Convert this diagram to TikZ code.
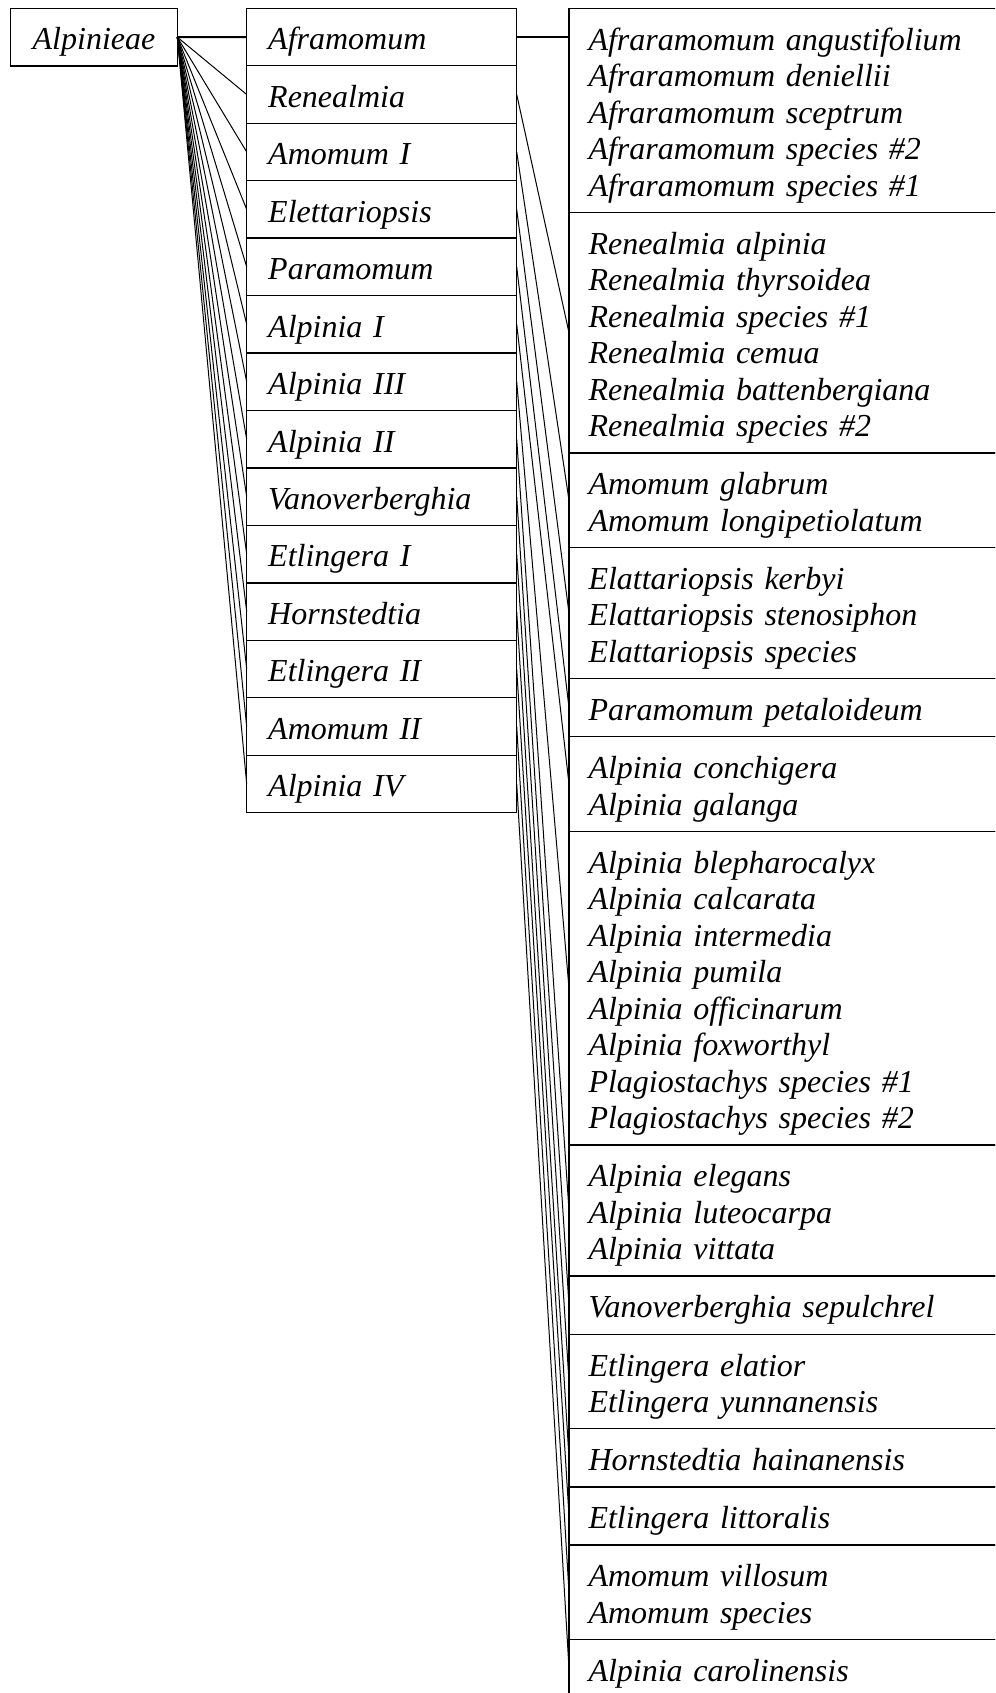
\documentclass[tikz,border=0pt]{standalone}
\usepackage{fontspec}
\setmainfont{Liberation Serif}
\usetikzlibrary{positioning}

\newcommand{\lowstrut}{\rule[-10.95pt]{0pt}{47.5pt}}

\tikzset{
    genus/.style={draw, line width=1.3pt, anchor=north west, outer sep=0pt,
        inner xsep=21.5pt, inner ysep=0pt, text width=227pt, align=left,
        minimum height=57.46pt, execute at begin node=\lowstrut},
    species/.style={draw, line width=1.3pt, outer sep=0pt,
        inner xsep=19.5pt, inner ysep=0pt, text width=402pt, align=left,
        minimum height={#1*36.5pt+21.6pt},
        execute at begin node=\lowstrut, execute at end node=\strut},
}

\begin{document}
\begin{tikzpicture}[x=1pt, y=-1pt, font=\fontsize{32}{36.5}\selectfont\itshape]
    \useasboundingbox (0,0) rectangle (995,1693);
    \clip (0,0) rectangle (995,1693);

    \node[draw, line width=1.3pt, outer sep=0pt, minimum width=166.6pt, minimum height=57.7pt]
        (tribe) at (94,37.15) {\lowstrut Alpinieae};

    \foreach \name [count=\i] in {Aframomum, Renealmia, Amomum I, Elettariopsis, Paramomum,
            Alpinia I, Alpinia III, Alpinia II, Vanoverberghia, Etlingera I, Hornstedtia,
            Etlingera II, Amomum II, Alpinia IV}
        \node[genus] (g\i) at (246.7, {8.3+(\i-1)*57.46}) {\name};

    \node[species=5, anchor=north west] (s1) at (569,8.3)
        {Afraramomum angustifolium\\ Afraramomum deniellii\\ Afraramomum sceptrum\\
         Afraramomum species \#2\\ Afraramomum species \#1};
    \node[species=6, below=0pt of s1] (s2)
        {Renealmia alpinia\\ Renealmia thyrsoidea\\ Renealmia species \#1\\
         Renealmia cemua\\ Renealmia battenbergiana\\ Renealmia species \#2};
    \node[species=2, below=0pt of s2] (s3) {Amomum glabrum\\ Amomum longipetiolatum};
    \node[species=3, below=0pt of s3] (s4)
        {Elattariopsis kerbyi\\ Elattariopsis stenosiphon\\ Elattariopsis species};
    \node[species=1, below=0pt of s4] (s5) {Paramomum petaloideum};
    \node[species=2, below=0pt of s5] (s6) {Alpinia conchigera\\ Alpinia galanga};
    \node[species=8, below=0pt of s6] (s7)
        {Alpinia blepharocalyx\\ Alpinia calcarata\\ Alpinia intermedia\\ Alpinia pumila\\
         Alpinia officinarum\\ Alpinia foxworthyl\\ Plagiostachys species \#1\\
         Plagiostachys species \#2};
    \node[species=3, below=0pt of s7] (s8)
        {Alpinia elegans\\ Alpinia luteocarpa\\ Alpinia vittata};
    \node[species=1, below=0pt of s8] (s9) {Vanoverberghia sepulchrel};
    \node[species=2, below=0pt of s9] (s10) {Etlingera elatior\\ Etlingera yunnanensis};
    \node[species=1, below=0pt of s10] (s11) {Hornstedtia hainanensis};
    \node[species=1, below=0pt of s11] (s12) {Etlingera littoralis};
    \node[species=2, below=0pt of s12] (s13) {Amomum villosum\\ Amomum species};
    \node[species=1, below=0pt of s13] (s14) {Alpinia carolinensis};

    % tribe to genera
    \draw[line width=2pt] (tribe.east) -- (g1.west);
    \foreach \i in {2,...,14}
        \draw[line width=1pt] (tribe.east) -- (g\i.west);

    % genera to species
    \draw[line width=2pt] (g1.east) -- (g1.east -| s1.west);
    \foreach \i in {2,...,14}
        \draw[line width=1pt] (g\i.east) -- (s\i.west);
\end{tikzpicture}
\end{document}
